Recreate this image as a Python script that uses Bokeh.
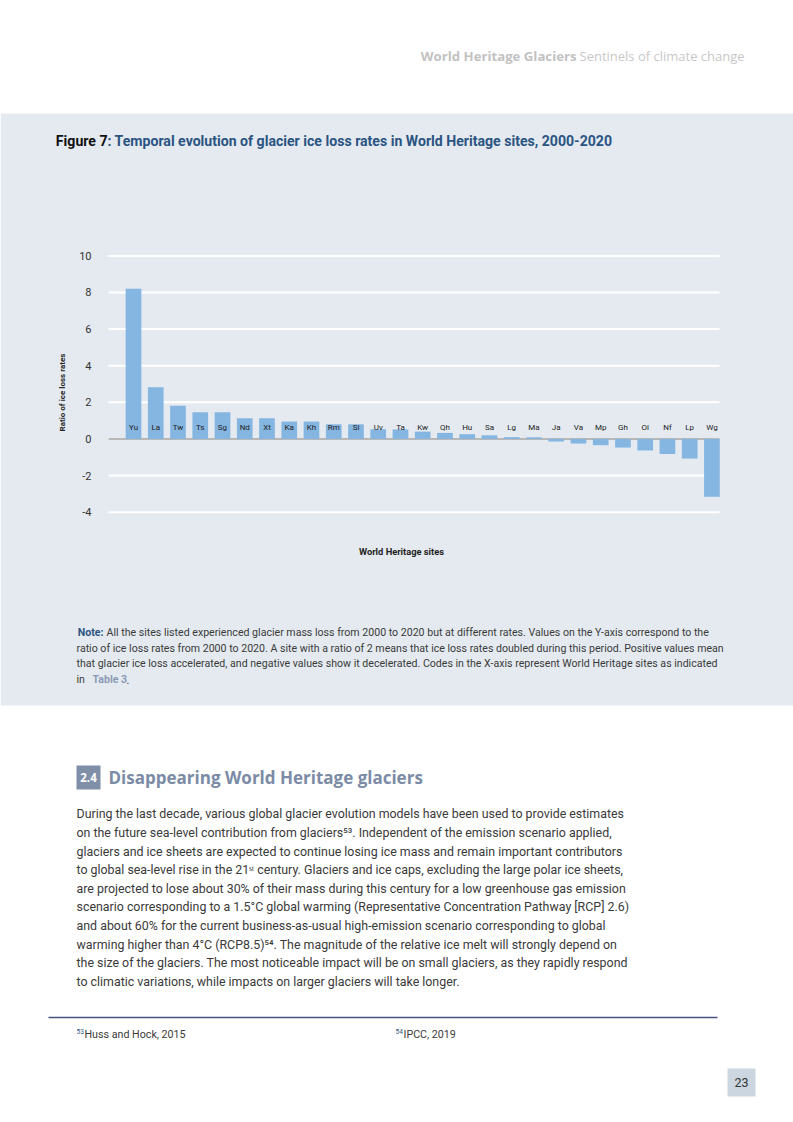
import math
from bokeh.plotting import figure
from bokeh.models import Range1d, ColumnDataSource
from bokeh.core.properties import value
from bokeh.embed import file_html
from bokeh.resources import INLINE

# ---------------- data ----------------
sites = ["Yu", "La", "Tw", "Ts", "Sg", "Nd", "Xt", "Ka", "Kh", "Rm", "Si", "Uv", "Ta", "Kw",
         "Qh", "Hu", "Sa", "Lg", "Ma", "Ja", "Va", "Mp", "Gh", "Ol", "Nf", "Lp", "Wg"]
ratios = [8.20, 2.82, 1.81, 1.46, 1.46, 1.13, 1.13, 0.95, 0.95, 0.80, 0.80, 0.53, 0.52, 0.40,
          0.33, 0.26, 0.20, 0.10, 0.09, -0.14, -0.25, -0.34, -0.47, -0.63, -0.82, -1.07, -3.16]
y_ticks = [-4, -2, 0, 2, 4, 6, 8, 10]
y_tick_labels = [str(t) for t in y_ticks]

fig_title_black = "Figure 7"
fig_title_blue = ": Temporal evolution of glacier ice loss rates in World Heritage sites, 2000-2020"
y_title = "Ratio of ice loss rates"
x_title = "World Heritage sites"

note_lines = [
    "All the sites listed experienced glacier mass loss from 2000 to 2020 but at different rates. Values on the Y-axis correspond to the",
    "ratio of ice loss rates from 2000 to 2020. A site with a ratio of 2 means that ice loss rates doubled during this period. Positive values mean",
    "that glacier ice loss accelerated, and negative values show it decelerated. Codes in the X-axis represent World Heritage sites as indicated",
]
body_lines = [
    "During the last decade, various global glacier evolution models have been used to provide estimates",
    "on the future sea-level contribution from glaciers\u2075\u00b3. Independent of the emission scenario applied,",
    "glaciers and ice sheets are expected to continue losing ice mass and remain important contributors",
    "to global sea-level rise in the 21\u02e2\u1d57 century. Glaciers and ice caps, excluding the large polar ice sheets,",
    "are projected to lose about 30% of their mass during this century for a low greenhouse gas emission",
    "scenario corresponding to a 1.5\u00b0C global warming (Representative Concentration Pathway [RCP] 2.6)",
    "and about 60% for the current business-as-usual high-emission scenario corresponding to global",
    "warming higher than 4\u00b0C (RCP8.5)\u2075\u2074. The magnitude of the relative ice melt will strongly depend on",
    "the size of the glaciers. The most noticeable impact will be on small glaciers, as they rapidly respond",
    "to climatic variations, while impacts on larger glaciers will take longer.",
]

# ---------------- styles / layout ----------------
PANEL = "#e4eaf0"
BAR = "#85b5e1"
BLUE = "#2b5482"
TEXT = "#3a3a3a"
W, H = 793, 1117

# chart plot area on the page (pixels) and its data limits
FL, FR, FT, FB = 108, 719, 253, 530
XL, XR = -1.124, 26.34
YB, YT = -5.0, 10.13
sx = (FR - FL) / (XR - XL)
sy = (FB - FT) / (YT - YB)
x_range = Range1d(XL - FL / sx, XR + (W - FR) / sx)
y_range = Range1d(YB - (H - FB) / sy, YT + FT / sy)

p = figure(width=W, height=H, x_range=x_range, y_range=y_range,
           min_border=0, toolbar_location=None, output_backend="svg",
           x_axis_type=None, y_axis_type=None, title=None,
           background_fill_color="white", border_fill_color="white", outline_line_color=None)
# page coordinate system (pixels, y downwards) for the surrounding page elements
p.extra_x_ranges = {"px": Range1d(0, W)}
p.extra_y_ranges = {"px": Range1d(H, 0)}
PX = dict(x_range_name="px", y_range_name="px")


def txt(x, y, s, size, color, style="normal", align="left", font="Roboto", angle=0.0):
    p.text(x=[x], y=[y], text=[s], text_font=value(font), text_font_size=f"{size}px",
           text_color=color, text_font_style=style, text_align=align, text_baseline="middle",
           angle=angle, **PX)


# blue panel behind the figure
p.quad(left=[0], right=[W], top=[113], bottom=[705], fill_color=PANEL, line_color=None, **PX)

# ---------------- header ----------------
txt(576, 55, "World Heritage Glaciers", 13.2, "#c2c2c2", "bold", "right", "Open Sans")
txt(579, 55, "Sentinels of climate change", 13.0, "#c8c8c8", "normal", "left", "Open Sans")

# ---------------- figure title ----------------
txt(107, 140, fig_title_black, 14.1, "#111111", "bold", "right")
txt(107, 140, fig_title_blue, 14.1, BLUE, "bold", "left")

# ---------------- chart ----------------
grid_src = ColumnDataSource(dict(y=y_ticks, x0=[XL] * len(y_ticks), x1=[XR] * len(y_ticks),
                                 label=y_tick_labels))
p.segment(x0="x0", x1="x1", y0="y", y1="y", source=grid_src, line_color="white", line_width=2)
p.segment(x0=[XL], x1=[XR], y0=[0], y1=[0], line_color="#b8b8b8", line_width=2)
p.text(x="x0", y="y", text="label", source=grid_src, x_offset=-17, text_align="right",
       text_baseline="middle", text_font=value("Roboto"), text_font_size="11px", text_color="#333333")

idx = list(range(len(sites)))
src = ColumnDataSource(dict(x=idx, top=ratios, site=sites, zero=[0] * len(sites)))
p.vbar(x="x", top="top", bottom=0, width=0.705, source=src, fill_color=BAR, line_color=None)
p.text(x="x", y="zero", text="site", source=src, y_offset=-11, text_align="center",
       text_baseline="middle", text_font=value("Roboto"), text_font_size="8px", text_color="#222222")

txt(62, 392, y_title, 8, "#222222", "bold", "center", angle=math.pi / 2)
txt(401, 551, x_title, 9.3, "#222222", "bold", "center")

# ---------------- note ----------------
NS = 10.6
note_y = [632, 648, 663]
txt(103, note_y[0], "Note:", NS, BLUE, "bold", "right")
txt(106, note_y[0], note_lines[0], NS, TEXT)
txt(76, note_y[1], note_lines[1], NS, TEXT)
txt(76, note_y[2], note_lines[2], NS, TEXT)
txt(76, 679, "in", NS, TEXT)
txt(92, 679, "Table 3", NS, "#8a9ab5", "bold")
txt(126, 679, ".", NS, TEXT)

# ---------------- section text ----------------
p.quad(left=[76], right=[100], top=[765], bottom=[789], fill_color="#7f8fa8", line_color=None, **PX)
txt(88, 777, "2.4", 11.5, "white", "bold", "center", "Open Sans")
txt(108, 777, "Disappearing World Heritage glaciers", 17, "#7b8ba5", "bold", "left", "Open Sans")
for i, line in enumerate(body_lines):
    txt(76, 813.3 + 18.63 * i, line, 12.4, TEXT)

# ---------------- footnotes / page number ----------------
p.line(x=[48, 717], y=[1017, 1017], line_color="#45557f", line_width=1.3, **PX)
txt(76, 1031, "53", 6.5, BLUE)
txt(84, 1034, "Huss and Hock, 2015", 10.7, TEXT)
txt(395, 1031, "54", 6.5, BLUE)
txt(403, 1034, "IPCC, 2019", 10.7, TEXT)
p.quad(left=[727], right=[755], top=[1068], bottom=[1096], fill_color="#ccd6e1", line_color=None, **PX)
txt(741, 1082, "23", 12.5, "#333333", "normal", "center")

open("out.html", "w").write(file_html(p, INLINE))
